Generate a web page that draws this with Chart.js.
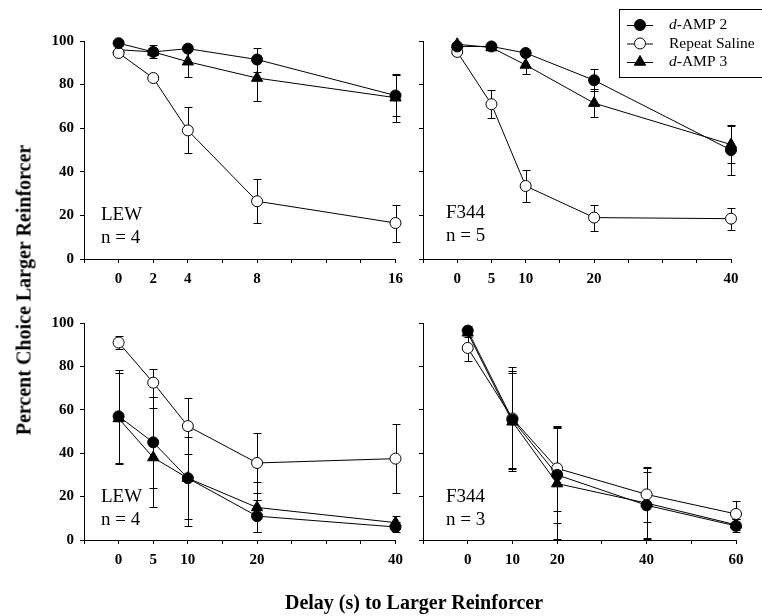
<!DOCTYPE html>
<html>
<head>
<meta charset="utf-8">
<script src="https://cdn.jsdelivr.net/npm/chart.js@4.4.1/dist/chart.umd.min.js"></script>
<style>
  body { margin: 0; background: #fff; }
  #wrap { position: relative; width: 762px; height: 616px; overflow: hidden; font-family: "Liberation Serif", "Times New Roman", serif; }
  canvas { position: absolute; }
  .title { position: absolute; font-weight: bold; font-size: 20px; color: #000; white-space: nowrap; }
  #xtitle { left: 414px; top: 602px; transform: translate(-50%, -50%); }
  #ytitle { left: 24px; top: 290px; transform: translate(-50%, -50%) rotate(-90deg); }
</style>
</head>
<body>
<div id="wrap">
  <canvas id="tl" width="410" height="300" style="left:0;top:0"></canvas>
  <canvas id="tr" width="352" height="300" style="left:410px;top:0"></canvas>
  <canvas id="bl" width="410" height="316" style="left:0;top:300px"></canvas>
  <canvas id="br" width="352" height="316" style="left:410px;top:300px"></canvas>
  <div class="title" id="xtitle">Delay (s) to Larger Reinforcer</div>
  <div class="title" id="ytitle">Percent Choice Larger Reinforcer</div>
</div>
<script>
// top left: LEW, n = 4
const tlDelays = [0, 2, 4, 8, 16];
const tlAmp2 = [99, 95, 96.5, 91.5, 75];
const tlAmp2Err = [0, 0, 0, 5.5, 9.5];
const tlSaline = [94.5, 83, 59, 26.5, 16.5];
const tlSalineErr = [1.5, 0, 10.5, 10, 8.5];
const tlAmp3 = [96, 95, 90.5, 83, 74];
const tlAmp3Err = [0, 3, 7, 10.5, 11];

// top right: F344, n = 5
const trDelays = [0, 5, 10, 20, 40];
const trAmp2 = [97.5, 97.5, 94.5, 82, 50];
const trAmp2Err = [0, 0, 0, 5, 11.5];
const trSaline = [95, 71, 33.5, 19, 18.5];
const trSalineErr = [0, 6.5, 7.5, 6, 5];
const trAmp3 = [98.5, 97, 89, 71.5, 52.5];
const trAmp3Err = [0, 0, 4, 6.5, 8.5];

// bottom left: LEW, n = 4
const blDelays = [0, 5, 10, 20, 40];
const blAmp2 = [57, 45, 28.5, 11, 6];
const blAmp2Err = [21.5, 21, 22, 7.5, 2.5];
const blSaline = [91, 72.5, 52.5, 35.5, 37.5];
const blSalineErr = [3, 6.5, 13, 14, 16];
const blAmp3 = [56, 38, 28.5, 15, 8];
const blAmp3Err = [21, 23, 19, 11.5, 3];

// bottom right: F344, n = 3
const brDelays = [0, 10, 20, 40, 60];
const brAmp2 = [96.5, 55.5, 30, 16, 6.5];
const brAmp2Err = [2, 22.5, 22, 15.5, 3];
const brSaline = [88.5, 56, 33, 21, 12];
const brSalineErr = [6, 23.5, 19.5, 12.5, 6];
const brAmp3 = [95.5, 54.5, 26, 17, 7];
const brAmp3Err = [2, 22.5, 25.5, 16, 2.5];

const yTicks = [0, 20, 40, 60, 80, 100];
const legendNames = [['d', '-AMP 2'], ['', 'Repeat Saline'], ['d', '-AMP 3']];

const serif = '"Liberation Serif", "Times New Roman", serif';

const errorBars = {
  id: 'errorBars',
  beforeDatasetsDraw(chart) {
    const { ctx } = chart;
    const x = chart.scales.x, y = chart.scales.y;
    ctx.save();
    ctx.strokeStyle = '#000';
    ctx.lineWidth = 1;
    chart.data.datasets.forEach((ds) => {
      ds.data.forEach((p, i) => {
        const e = ds.errors[i];
        if (!e) return;
        const px = Math.round(x.getPixelForValue(p.x)) + 0.5;
        const top = Math.round(y.getPixelForValue(p.y + e)) + 0.5;
        const bot = Math.round(y.getPixelForValue(Math.max(p.y - e, 0))) + 0.5;
        ctx.beginPath();
        ctx.moveTo(px, top); ctx.lineTo(px, bot);
        ctx.moveTo(px - 4, top); ctx.lineTo(px + 4, top);
        if (p.y - e > 0) { ctx.moveTo(px - 4, bot); ctx.lineTo(px + 4, bot); }
        ctx.stroke();
      });
    });
    ctx.restore();
  }
};

const panelLabel = {
  id: 'panelLabel',
  afterDraw(chart, args, opts) {
    if (!opts.lines) return;
    const { ctx, chartArea } = chart;
    ctx.save();
    ctx.fillStyle = '#000';
    ctx.font = '19px ' + serif;
    ctx.textBaseline = 'middle';
    ctx.fillText(opts.lines[0], chartArea.left + opts.dx, chartArea.bottom - opts.up[0]);
    ctx.fillText(opts.lines[1], chartArea.left + opts.dx, chartArea.bottom - opts.up[1]);
    ctx.restore();
  }
};

const boxLegend = {
  id: 'boxLegend',
  afterDraw(chart, args, opts) {
    if (!opts.show) return;
    const { ctx } = chart;
    ctx.save();
    ctx.strokeStyle = '#000';
    ctx.lineWidth = 1;
    ctx.strokeRect(209.5, 9.5, 160, 68);
    chart.data.datasets.forEach((ds, i) => {
      const cy = 25 + i * 18.5;
      ctx.beginPath();
      ctx.moveTo(217, cy + 0.5); ctx.lineTo(243, cy + 0.5);
      ctx.stroke();
      ctx.fillStyle = ds.pointBackgroundColor;
      Chart.helpers.drawPoint(ctx, { pointStyle: ds.pointStyle, radius: ds.pointRadius, borderWidth: 1, rotation: 0 }, 230, cy);
      ctx.fillStyle = '#000';
      ctx.textBaseline = 'middle';
      let tx = 259;
      const [it, rest] = legendNames[i];
      if (it) {
        ctx.font = 'italic 15.5px ' + serif;
        ctx.fillText(it, tx, cy);
        tx += ctx.measureText(it).width;
      }
      ctx.font = '15.5px ' + serif;
      ctx.fillText(rest, tx, cy);
    });
    ctx.restore();
  }
};

function series(label, delays, vals, errs, style, fill, radius) {
  return {
    label: label,
    data: delays.map((d, i) => ({ x: d, y: vals[i] })),
    errors: errs,
    borderColor: '#000',
    borderWidth: 1,
    pointStyle: style,
    pointRadius: radius,
    pointHoverRadius: radius,
    pointBackgroundColor: fill,
    pointBorderColor: '#000',
    pointBorderWidth: 1,
    tension: 0,
    clip: false
  };
}

function makePanel(id, delays, step, amp2, amp2Err, sal, salErr, amp3, amp3Err, box) {
  new Chart(document.getElementById(id), {
    type: 'line',
    data: {
      datasets: [
        series('d-AMP 2', delays, amp2, amp2Err, 'circle', '#000', 5.5),
        series('Repeat Saline', delays, sal, salErr, 'circle', '#fff', 5.5),
        series('d-AMP 3', delays, amp3, amp3Err, 'triangle', '#000', 6.5)
      ]
    },
    options: {
      responsive: false,
      animation: false,
      events: [],
      layout: { padding: { left: 0, top: box.padTop, right: box.padRight, bottom: 0 } },
      scales: {
        x: {
          type: 'linear',
          min: -step,
          max: delays[delays.length - 1],
          afterFit: (s) => { s.height = box.xHeight; },
          border: { color: '#000', width: 1 },
          grid: { drawOnChartArea: false, drawTicks: true, tickLength: 4, color: '#000' },
          ticks: {
            stepSize: step,
            autoSkip: false,
            maxRotation: 0,
            padding: 7,
            color: '#000',
            font: { family: serif, size: 15, weight: 'bold' },
            callback: (v) => (delays.includes(v) ? String(v) : '')
          }
        },
        y: {
          min: 0,
          max: 100,
          afterFit: (s) => { s.width = box.yWidth; },
          border: { color: '#000', width: 1 },
          grid: { drawOnChartArea: false, drawTicks: true, tickLength: 4, color: '#000' },
          ticks: {
            stepSize: 20,
            padding: 6,
            color: '#000',
            font: { family: serif, size: 15, weight: 'bold' },
            callback: (v) => (box.showY && yTicks.includes(v) ? String(v) : '')
          }
        }
      },
      plugins: {
        legend: { display: false },
        tooltip: { enabled: false },
        panelLabel: { lines: box.lines, dx: box.dx, up: box.up },
        boxLegend: { show: !!box.legend }
      }
    },
    plugins: [errorBars, panelLabel, boxLegend]
  });
}

makePanel('tl', tlDelays, 2, tlAmp2, tlAmp2Err, tlSaline, tlSalineErr, tlAmp3, tlAmp3Err,
  { padTop: 41, padRight: 13, yWidth: 84, xHeight: 41, showY: true, lines: ['LEW', 'n = 4'], dx: 17, up: [44, 21] });
makePanel('tr', trDelays, 5, trAmp2, trAmp2Err, trSaline, trSalineErr, trAmp3, trAmp3Err,
  { padTop: 41, padRight: 31, yWidth: 13, xHeight: 41, showY: false, lines: ['F344', 'n = 5'], dx: 23, up: [46, 23], legend: true });
makePanel('bl', blDelays, 5, blAmp2, blAmp2Err, blSaline, blSalineErr, blAmp3, blAmp3Err,
  { padTop: 23, padRight: 13, yWidth: 84, xHeight: 76, showY: true, lines: ['LEW', 'n = 4'], dx: 17, up: [43, 20] });
makePanel('br', brDelays, 10, brAmp2, brAmp2Err, brSaline, brSalineErr, brAmp3, brAmp3Err,
  { padTop: 23, padRight: 26, yWidth: 13, xHeight: 76, showY: false, lines: ['F344', 'n = 3'], dx: 23, up: [43, 20] });
</script>
</body>
</html>
